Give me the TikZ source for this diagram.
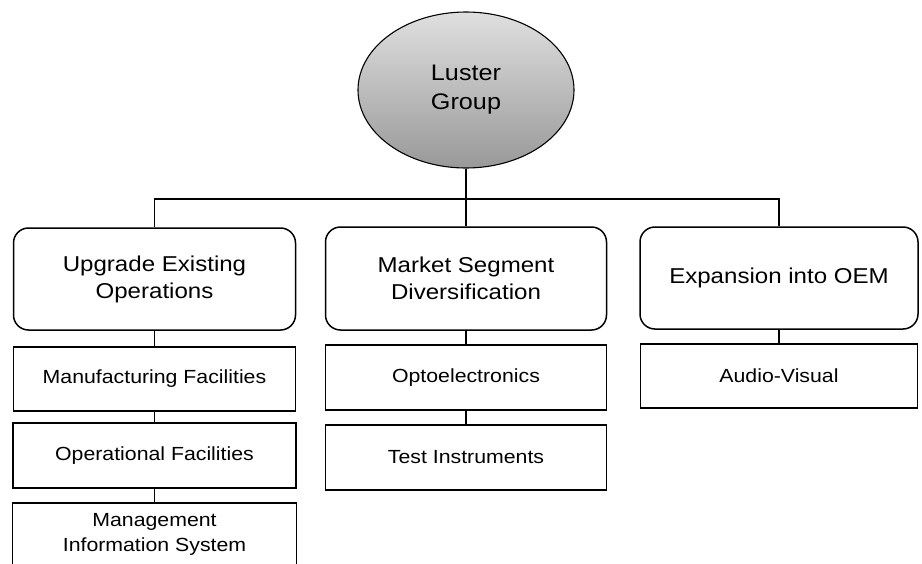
\documentclass[tikz,border=0pt]{standalone}
\usepackage{fontspec}
\setmainfont{Liberation Sans}[FakeStretch=1.12]
\usetikzlibrary{shapes.geometric}
\begin{document}
\begin{tikzpicture}[x=1pt,y=-1pt,
  bigbox/.style={draw, rounded corners=15pt, line width=1.5pt, minimum width=282pt, minimum height=102pt, align=center, font=\fontsize{21.5}{27}\selectfont, inner sep=0pt},
  subbox/.style={draw, line width=1.5pt, minimum width=282pt, minimum height=65pt, align=center, font=\fontsize{19}{25}\selectfont, inner sep=0pt},
  conn/.style={line width=1.6pt}]
\clip (0,0) rectangle (922,563);
\fill[white] (0,0) rectangle (922,563);
\node[ellipse, draw, line width=1.1pt, minimum width=216pt, minimum height=156pt, inner sep=0pt,
  top color=gray!25, middle color=gray!75, bottom color=gray!80,
  font=\fontsize{22.5}{29}\selectfont, align=center] (root) at (466,90) {Luster\\Group};
% top level
\node[bigbox] (up) at (154.5,279) {Upgrade Existing\\Operations};
\node[bigbox, minimum width=281pt, minimum height=103pt] (ms) at (466,278.5) {Market Segment\\Diversification};
\node[bigbox, minimum width=278pt] (ex) at (779,278) {Expansion into OEM};
% column 1
\node[subbox, minimum height=64pt] (mf) at (154.5,379) {Manufacturing Facilities};
\node[subbox, minimum width=283pt] (of) at (154.5,455.5) {Operational Facilities};
\node[subbox, anchor=north, minimum width=284pt, minimum height=64pt] (mis) at (154.5,502) {Management\\Information System};
% column 2
\node[subbox, minimum width=281pt] (op) at (466,377.5) {Optoelectronics};
\node[subbox, minimum width=281pt] (ti) at (466,457.5) {Test Instruments};
% column 3
\node[subbox, minimum width=277pt, minimum height=64pt] (av) at (779,376) {Audio-Visual};
% connectors
\draw[conn] (root.south) -- (ms.north);
\draw[conn] (up.north) -- ++(0,-28) -| (ex.north);
\draw[conn] (up.south) -- (mf.north);
\draw[conn] (mf.south) -- (of.north);
\draw[conn] (of.south) -- (mis.north);
\draw[conn] (ms.south) -- (op.north);
\draw[conn] (op.south) -- (ti.north);
\draw[conn] (ex.south) -- (av.north);
\end{tikzpicture}
\end{document}
